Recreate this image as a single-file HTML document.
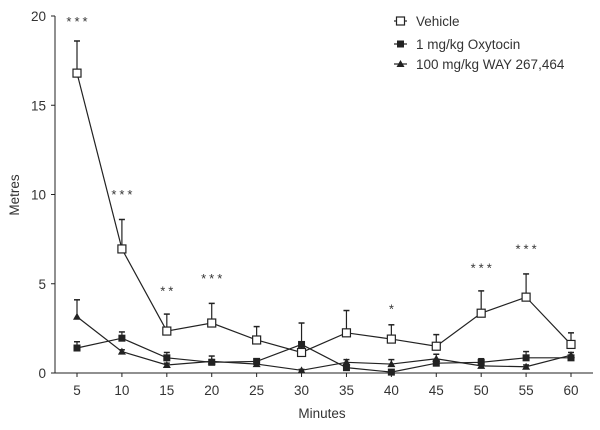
<!DOCTYPE html>
<html><head><meta charset="utf-8"><style>
body{margin:0;background:#fff}
svg text{font-family:"Liberation Sans",sans-serif;fill:#333}
</style></head><body>
<svg id="chart" width="600" height="425" xmlns="http://www.w3.org/2000/svg"></svg>
<script>
const minutes=[5,10,15,20,25,30,35,40,45,50,55,60];
const vehicle=[16.8,6.95,2.35,2.8,1.85,1.15,2.25,1.9,1.5,3.35,4.25,1.6];
const vehicleErr=[1.8,1.65,0.95,1.1,0.75,1.65,1.25,0.8,0.65,1.25,1.3,0.65];
const oxytocin=[1.4,1.95,0.85,0.6,0.65,1.6,0.3,0.05,0.55,0.6,0.85,0.85];
const oxytocinErr=[0.35,0.35,0.3,0.35,0.15,0.1,0.1,0.1,0.1,0.2,0.35,0.1];
const way=[3.15,1.2,0.45,0.65,0.5,0.15,0.6,0.5,0.8,0.4,0.35,1.0];
const wayErr=[0.95,0.1,0.1,0.1,0.1,0.05,0.15,0.25,0.25,0.1,0.1,0.15];
const stars=["***","***","**","***","","","","*","","***","***",""];
const starY=[19.5,9.8,4.4,5.1,0,0,0,3.4,0,5.7,6.75,0];
const yTicks=[0,5,10,15,20];
const NS="http://www.w3.org/2000/svg";
const svg=document.getElementById('chart');
const X=v=>77+(v-5)*(494/55);
const Y=v=>373-v*17.85;
function mk(t,a,p){const e=document.createElementNS(NS,t);for(const k in a)e.setAttribute(k,a[k]);(p||svg).appendChild(e);return e;}
let e;
e=mk('line',{x1:55,y1:16,x2:55,y2:373,stroke:'#222','stroke-width':1});


e=mk('line',{x1:55,y1:373,x2:593,y2:373,stroke:'#222','stroke-width':1});


yTicks.forEach(v=>{
 mk('line',{x1:51,y1:Y(v),x2:55,y2:Y(v),stroke:'#222'});
 e=mk('text',{x:46,y:Y(v)+5,'text-anchor':'end','font-size':13.5});e.textContent=v;
 
 
});
minutes.forEach(m=>{
 mk('line',{x1:X(m),y1:373,x2:X(m),y2:377,stroke:'#222'});
 e=mk('text',{x:X(m),y:395,'text-anchor':'middle','font-size':13.5});e.textContent=m;
 
 
});
e=mk('text',{x:322,y:418,'text-anchor':'middle','font-size':13.5});e.textContent='Minutes';


e=mk('text',{x:0,y:0,'text-anchor':'middle','font-size':13.5,transform:'translate(19,195) rotate(-90)'});e.textContent='Metres';


function marker(kind,x,y,g){
 if(kind==='sq-open')return mk('rect',{x:x-4,y:y-4,width:8,height:8,fill:'#fff',stroke:'#222','stroke-width':1.2},g);
 if(kind==='sq')return mk('rect',{x:x-3.5,y:y-3.5,width:7,height:7,fill:'#222'},g);
 return mk('polygon',{points:`${x},${y-4} ${x+4},${y+3} ${x-4},${y+3}`,fill:'#222'},g);
}
function series(vals,errs,kind,name){
 const g=mk('g',{});
 
 
 vals.forEach((v,i)=>{const x=X(minutes[i]);
  mk('line',{x1:x,y1:Y(v),x2:x,y2:Y(v+errs[i]),stroke:'#222','stroke-width':1.2},g);
  mk('line',{x1:x-3,y1:Y(v+errs[i]),x2:x+3,y2:Y(v+errs[i]),stroke:'#222','stroke-width':1.5},g);});
 mk('polyline',{points:vals.map((v,i)=>X(minutes[i])+','+Y(v)).join(' '),fill:'none',stroke:'#222','stroke-width':1.2},g);
 vals.forEach((v,i)=>{const m=marker(kind,X(minutes[i]),Y(v),g);
  
  });
}
series(way,wayErr,'tri','series-way');
series(oxytocin,oxytocinErr,'sq','series-oxytocin');
series(vehicle,vehicleErr,'sq-open','series-vehicle');
stars.forEach((s,i)=>{if(!s)return;
 e=mk('text',{x:X(minutes[i])+1.5,y:Y(starY[i])+1,'text-anchor':'middle','font-size':13,'letter-spacing':'3'});e.textContent=s;
 
 
});
const legend=[['sq-open','Vehicle',21],['sq','1 mg/kg Oxytocin',44],['tri','100 mg/kg WAY 267,464',64]];
legend.forEach(([k,t,y])=>{
 const g=mk('g',{});
 
 
 mk('line',{x1:394,y1:y,x2:407,y2:y,stroke:'#222','stroke-width':1.2},g);
 marker(k,400.5,y,g);
 const tx=mk('text',{x:416,y:y+5,'font-size':13.5},g);tx.textContent=t;
});
</script>
</body></html>
